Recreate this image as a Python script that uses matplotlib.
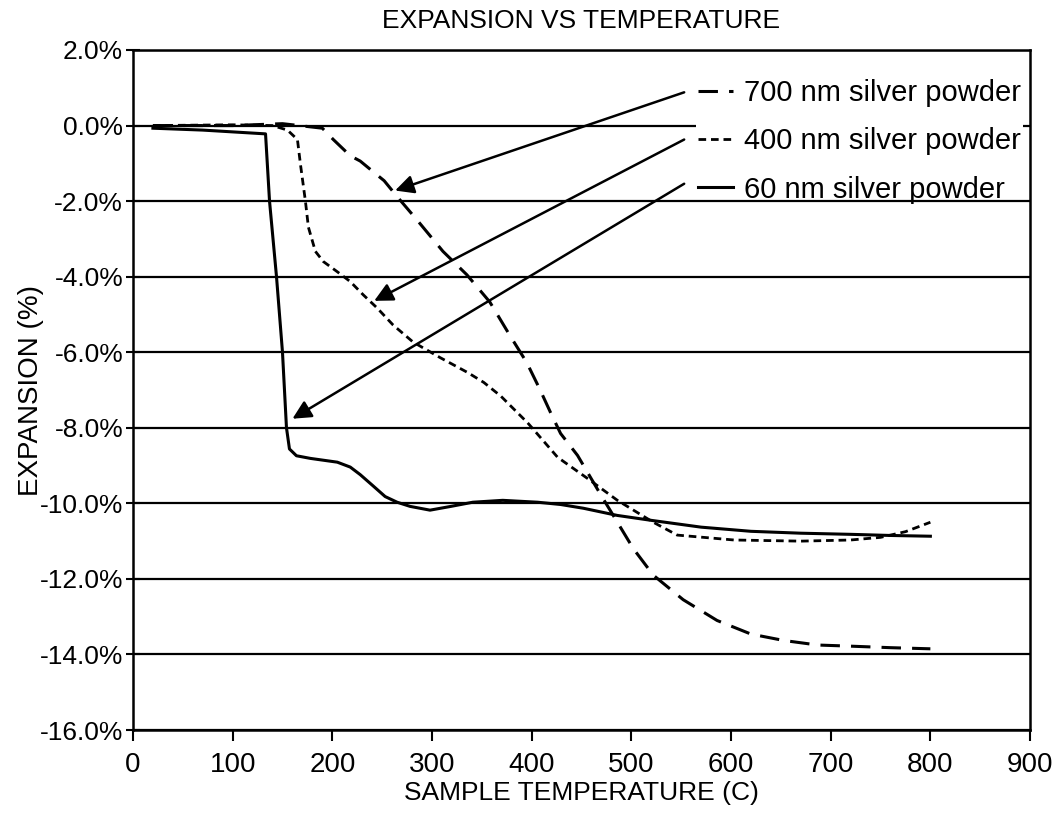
import matplotlib
matplotlib.use('Agg')
import matplotlib.pyplot as plt
from matplotlib.ticker import FuncFormatter

plt.rcParams['font.family'] = ['Liberation Sans', 'DejaVu Sans']
plt.rcParams['lines.scale_dashes'] = False

# Dilatometer curves (temperature C, expansion %)
temp_60 = [20, 70, 133, 137, 144, 150, 154, 157, 164, 178, 205, 218, 228, 241, 253, 265, 278,
           298, 319, 341, 371, 406, 429, 452, 486, 520, 570, 620, 670, 720, 760, 800]
exp_60 = [-0.07, -0.12, -0.22, -2.0, -4.0, -6.0, -8.0, -8.56, -8.74, -8.81, -8.91, -9.04, -9.24,
          -9.54, -9.82, -9.97, -10.08, -10.18, -10.08, -9.97, -9.92, -9.97, -10.03, -10.13,
          -10.32, -10.45, -10.63, -10.74, -10.79, -10.82, -10.85, -10.87]

temp_400 = [20, 100, 140, 155, 165, 168, 173, 176, 183, 191, 205, 218, 231, 245, 261, 281, 308,
            336, 352, 369, 396, 402, 426, 456, 486, 522, 546, 603, 670, 720, 750, 775, 800]
exp_400 = [0.0, 0.02, 0.0, -0.12, -0.37, -1.02, -2.0, -2.69, -3.33, -3.6, -3.87, -4.13, -4.48,
           -4.83, -5.28, -5.73, -6.14, -6.54, -6.8, -7.16, -7.87, -8.05, -8.78, -9.34, -9.92,
           -10.5, -10.84, -10.97, -11.0, -10.97, -10.9, -10.75, -10.5]

temp_700 = [20, 100, 150, 190, 201, 218, 228, 245, 252, 265, 285, 311, 335, 358, 378, 395, 408,
            419, 429, 446, 469, 486, 502, 522, 552, 586, 620, 653, 687, 720, 760, 800]
exp_700 = [0.0, 0.0, 0.05, -0.07, -0.37, -0.8, -0.94, -1.31, -1.46, -1.88, -2.5, -3.33, -3.95,
           -4.67, -5.55, -6.27, -6.97, -7.6, -8.15, -8.73, -9.76, -10.5, -11.2, -11.9, -12.55,
           -13.1, -13.46, -13.63, -13.75, -13.78, -13.82, -13.85]

labels = ['700 nm silver powder', '400 nm silver powder', '60 nm silver powder']
x_ticks = [0, 100, 200, 300, 400, 500, 600, 700, 800, 900]
y_ticks = [2, 0, -2, -4, -6, -8, -10, -12, -14, -16]

fig = plt.figure(figsize=(10.57, 8.21), dpi=100)
ax = fig.add_axes([0.1258, 0.1108, 0.8487, 0.8283])

ax.set_xlim(0, 900)
ax.set_ylim(-16, 2)
ax.set_xticks(x_ticks)
ax.set_yticks(y_ticks)
ax.yaxis.set_major_formatter(FuncFormatter(lambda v, p: f"{v:.1f}%".replace('-0.0', '0.0')))

# horizontal grid (the 0% line is hidden behind the legend, the -2% line is not)
for y in y_ticks:
    ax.axhline(y, color='k', lw=1.6, zorder=5.5 if y == -2 else 1)

l60, = ax.plot(temp_60, exp_60, color='k', lw=2.2, zorder=3)
l400, = ax.plot(temp_400, exp_400, color='k', lw=2.0, dashes=(5.5, 3.5), zorder=3)
l700, = ax.plot(temp_700, exp_700, color='k', lw=2.2, dashes=(14, 8), zorder=3)

leg = ax.legend([l700, l400, l60], labels, loc='upper right', bbox_to_anchor=(0.992, 0.959),
                frameon=True, facecolor='white', edgecolor='none', framealpha=1, fancybox=False,
                fontsize=21, handlelength=1.2, handletextpad=0.4, labelspacing=0.69,
                borderpad=0.05, borderaxespad=0)
leg.set_zorder(5)

# arrows from legend entries to the curves
arrow = dict(arrowstyle='-|>', color='k', lw=1.8, mutation_scale=28, shrinkA=0, shrinkB=0)
ax.annotate('', xy=(263, -1.72), xytext=(553, 0.88), arrowprops=arrow, zorder=6)
ax.annotate('', xy=(242, -4.64), xytext=(553, -0.37), arrowprops=arrow, zorder=6)
ax.annotate('', xy=(160, -7.76), xytext=(553, -1.54), arrowprops=arrow, zorder=6)

for s in ax.spines.values():
    s.set_linewidth(1.8)
ax.tick_params(axis='y', direction='inout', length=10, width=1.5, labelsize=19, pad=2)
ax.tick_params(axis='x', direction='out', length=8, width=1.5, labelsize=20, pad=8)

ax.set_title('EXPANSION VS TEMPERATURE', fontsize=19, pad=16)
ax.set_xlabel('SAMPLE TEMPERATURE (C)', fontsize=19, labelpad=2)
ax.set_ylabel('EXPANSION (%)', fontsize=20, labelpad=-3)

fig.savefig('out.png', dpi=100)
